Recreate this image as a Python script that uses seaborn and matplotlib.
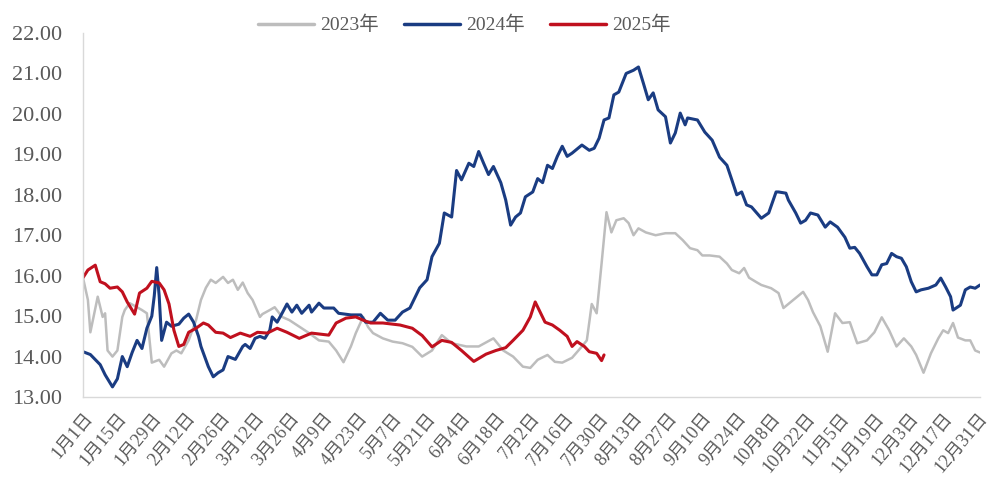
import pandas as pd
import seaborn as sns
import matplotlib.pyplot as plt

# day-of-year positions and prices
days_2023 = [0, 2, 3, 6, 8, 9, 10, 12, 14, 16, 17, 19, 22, 24, 26, 28, 31, 33, 36, 38, 40, 43, 46, 48, 50,
             52, 54, 57, 59, 61, 63, 65, 67, 69, 72, 73, 76, 78, 81, 84, 87, 92, 96, 100, 103, 106, 109,
             111, 114, 116, 118, 122, 126, 130, 134, 138, 142, 146, 150, 156, 161, 167, 171, 175, 179,
             182, 185, 189, 192, 195, 199, 203, 205, 207, 209, 211, 213, 215, 217, 220, 222, 224, 226,
             229, 233, 237, 241, 244, 247, 250, 252, 255, 259, 262, 264, 267, 269, 271, 274, 276, 280,
             283, 285, 287, 290, 293, 295, 297, 300, 303, 306, 309, 312, 315, 319, 322, 325, 328, 331,
             334, 337, 339, 342, 345, 348, 350, 352, 354, 356, 359, 361, 363, 365]
vals_2023 = [15.95, 15.4, 14.6, 15.48, 14.98, 15.07, 14.15, 14.0, 14.15, 14.98, 15.15, 15.32, 15.22, 15.15,
             15.07, 13.85, 13.92, 13.75, 14.08, 14.15, 14.08, 14.4, 14.9, 15.4, 15.7, 15.9, 15.82, 15.97,
             15.82, 15.9, 15.65, 15.83, 15.57, 15.4, 14.98, 15.05, 15.15, 15.22, 14.98, 14.9, 14.78,
             14.58, 14.4, 14.37, 14.15, 13.86, 14.25, 14.58, 14.98, 14.73, 14.58, 14.45, 14.37, 14.33,
             14.24, 14.0, 14.15, 14.53, 14.33, 14.25, 14.25, 14.45, 14.15, 14.0, 13.75, 13.72, 13.92,
             14.04, 13.87, 13.85, 13.97, 14.25, 14.4, 15.3, 15.07, 16.3, 17.57, 17.07, 17.37, 17.42,
             17.3, 17.0, 17.17, 17.07, 17.0, 17.05, 17.05, 16.88, 16.68, 16.63, 16.5, 16.5, 16.47, 16.3,
             16.14, 16.06, 16.19, 15.95, 15.84, 15.77, 15.69, 15.57, 15.2, 15.3, 15.45, 15.6, 15.4,
             15.1, 14.75, 14.12, 15.07, 14.83, 14.85, 14.33, 14.4, 14.6, 14.97, 14.65, 14.25, 14.45,
             14.25, 14.04, 13.6, 14.08, 14.45, 14.65, 14.58, 14.83, 14.47, 14.4, 14.4, 14.15, 14.1]

days_2024 = [0, 3, 7, 9, 12, 14, 16, 18, 20, 22, 24, 26, 28, 29, 30, 31, 32, 34, 36, 39, 41, 43, 45, 47,
             48, 51, 53, 55, 57, 59, 62, 65, 66, 68, 70, 72, 74, 76, 77, 79, 81, 83, 85, 87, 89, 92, 93,
             96, 98, 102, 104, 109, 113, 115, 118, 121, 124, 127, 130, 133, 135, 137, 140, 142, 145, 147,
             150, 152, 154, 157, 159, 161, 163, 165, 167, 170, 172, 174, 176, 178, 180, 183, 185, 187,
             189, 191, 193, 195, 197, 199, 203, 206, 208, 210, 212, 214, 216, 218, 221, 224, 226, 228,
             230, 232, 234, 237, 239, 241, 243, 245, 246, 250, 253, 256, 259, 262, 264, 266, 268, 270,
             272, 276, 279, 282, 283, 286, 287, 290, 292, 294, 296, 299, 302, 304, 307, 310, 312, 314,
             316, 319, 321, 323, 325, 327, 329, 331, 333, 335, 337, 339, 341, 344, 347, 349, 351, 353,
             354, 357, 359, 361, 363, 365]
vals_2024 = [14.12, 14.05, 13.8, 13.55, 13.25, 13.45, 14.0, 13.75, 14.1, 14.4, 14.2, 14.7, 15.0, 15.5,
             16.2, 15.5, 14.4, 14.85, 14.75, 14.8, 14.95, 15.05, 14.85, 14.5, 14.25, 13.75, 13.5, 13.6,
             13.67, 14.0, 13.93, 14.25, 14.3, 14.2, 14.45, 14.5, 14.45, 14.65, 14.98, 14.85, 15.07,
             15.3, 15.1, 15.27, 15.07, 15.27, 15.1, 15.32, 15.2, 15.2, 15.07, 15.03, 15.03, 14.85,
             14.85, 15.07, 14.9, 14.9, 15.1, 15.2, 15.45, 15.7, 15.9, 16.47, 16.8, 17.55, 17.45, 18.6,
             18.37, 18.78, 18.7, 19.07, 18.78, 18.5, 18.7, 18.3, 17.87, 17.25, 17.45, 17.55, 17.95,
             18.07, 18.4, 18.3, 18.73, 18.65, 18.95, 19.2, 18.95, 19.03, 19.23, 19.1, 19.15, 19.4,
             19.85, 19.9, 20.47, 20.54, 21.0, 21.08, 21.16, 20.76, 20.35, 20.52, 20.1, 19.93, 19.28,
             19.53, 20.02, 19.73, 19.9, 19.85, 19.55, 19.35, 18.93, 18.73, 18.37, 18.0, 18.07, 17.75,
             17.7, 17.42, 17.55, 18.07, 18.07, 18.04, 17.87, 17.55, 17.3, 17.37, 17.55, 17.5, 17.2,
             17.33, 17.2, 16.95, 16.68, 16.7, 16.55, 16.22, 16.02, 16.02, 16.27, 16.3, 16.55, 16.47,
             16.43, 16.22, 15.85, 15.6, 15.65, 15.69, 15.77, 15.94, 15.72, 15.48, 15.15, 15.27, 15.65,
             15.72, 15.69, 15.77]

days_2025 = [0, 2, 5, 7, 9, 11, 14, 16, 18, 21, 23, 26, 28, 31, 33, 35, 37, 39, 41, 43, 46, 49, 51, 54,
             57, 60, 64, 68, 71, 75, 79, 83, 88, 93, 100, 103, 107, 111, 114, 117, 122, 129, 134, 138,
             142, 146, 150, 154, 159, 164, 168, 172, 175, 179, 182, 184, 186, 188, 191, 194, 197, 199,
             201, 204, 206, 209, 211, 212]
vals_2025 = [15.95, 16.14, 16.26, 15.85, 15.8, 15.69, 15.72, 15.6, 15.35, 15.05, 15.57, 15.69, 15.86,
             15.82, 15.65, 15.3, 14.65, 14.25, 14.3, 14.6, 14.7, 14.83, 14.78, 14.6, 14.58, 14.47,
             14.58, 14.5, 14.6, 14.58, 14.7, 14.6, 14.45, 14.58, 14.53, 14.83, 14.95, 14.98, 14.9,
             14.83, 14.83, 14.78, 14.7, 14.52, 14.24, 14.4, 14.35, 14.15, 13.88, 14.06, 14.15, 14.22,
             14.4, 14.65, 14.98, 15.35, 15.1, 14.85, 14.78, 14.65, 14.5, 14.25, 14.37, 14.25, 14.12,
             14.08, 13.9, 14.04]

tick_days = list(range(0, 365, 14))
tick_labels = ['1月1日', '1月15日', '1月29日', '2月12日', '2月26日', '3月12日', '3月26日', '4月9日',
               '4月23日', '5月7日', '5月21日', '6月4日', '6月18日', '7月2日', '7月16日', '7月30日',
               '8月13日', '8月27日', '9月10日', '9月24日', '10月8日', '10月22日', '11月5日',
               '11月19日', '12月3日', '12月17日', '12月31日']

df = pd.concat([
    pd.DataFrame({'day': days_2023, 'value': vals_2023, 'year': '2023年'}),
    pd.DataFrame({'day': days_2024, 'value': vals_2024, 'year': '2024年'}),
    pd.DataFrame({'day': days_2025, 'value': vals_2025, 'year': '2025年'}),
])

sns.set_style("white")
plt.rcParams['font.family'] = ['Liberation Serif', 'Noto Sans CJK SC']

fig = plt.figure(figsize=(9.95, 4.98), dpi=100)
ax = fig.add_axes([0.0834, 0.2028, 0.9016, 0.7309])

palette = {'2023年': '#BDBDBD', '2024年': '#1A3C82', '2025年': '#C0101E'}
sns.lineplot(
    data=df,
    x='day',
    y='value',
    hue='year',
    palette=palette,
    estimator=None,
    linewidth=2.0,
    ax=ax
)
for line, lw in zip(ax.get_lines(), [1.8, 2.2, 2.2]):
    line.set_linewidth(lw)

ax.set_xlim(0, 365)
ax.set_ylim(13, 22)
ax.set_yticks(range(13, 23))
ax.set_yticklabels([f"{v:.2f}" for v in range(13, 23)], fontsize=16, color='#595959')
ax.set_xticks(tick_days)
ax.set_xticklabels(tick_labels, rotation=50, ha='right', rotation_mode='anchor',
                   fontsize=13, color='#595959')
ax.set_xlabel('')
ax.set_ylabel('')

for side in ['top', 'right']:
    ax.spines[side].set_visible(False)
for side in ['left', 'bottom']:
    ax.spines[side].set_color('#D9D9D9')
    ax.spines[side].set_linewidth(1.0)
ax.tick_params(axis='both', which='major', direction='out', length=5, width=1.0,
               color='#D9D9D9', pad=4)
ax.tick_params(axis='y', pad=10)

leg = ax.legend(loc='upper center', bbox_to_anchor=(0.425, 1.095), ncol=3, frameon=False,
                fontsize=14, handlelength=2.9, columnspacing=1.3, handletextpad=0.3,
                labelcolor='#595959')
for h in leg.get_lines():
    h.set_linewidth(2.5)

fig.savefig('out.png', dpi=100)
